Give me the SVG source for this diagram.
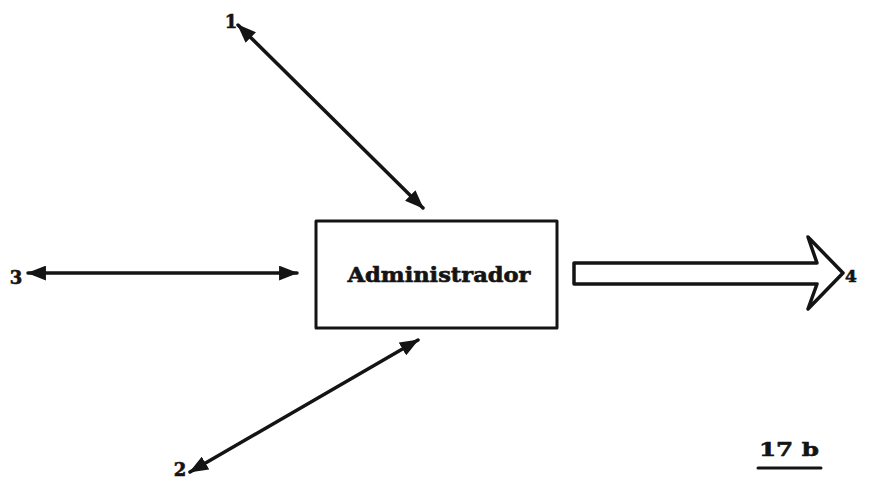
<svg xmlns="http://www.w3.org/2000/svg" width="869" height="501" viewBox="0 0 869 501">
  <style>
    .ink { stroke: #141414; fill: none; stroke-linecap: round; stroke-linejoin: round; }
    .conn { stroke-width: 3.5; }
    .lbl { font-family: "DejaVu Serif", "Liberation Serif", serif; font-weight: bold; fill: #141414; stroke: #141414; stroke-width: 0.6; }
  </style>
  <defs>
    <marker id="tip" viewBox="0 0 18 14" refX="17" refY="7" markerWidth="19" markerHeight="15" markerUnits="userSpaceOnUse" orient="auto-start-reverse">
      <path d="M0,0 L18,7 L0,14 Z" fill="#141414"/>
    </marker>
  </defs>

  <rect width="869" height="501" fill="#ffffff"/>

  <!-- central node -->
  <g id="administrador">
    <rect class="ink" x="316" y="221" width="241" height="107" stroke-width="3"/>
    <text class="lbl" x="439" y="282" font-size="20" text-anchor="middle" textLength="183" lengthAdjust="spacingAndGlyphs">Administrador</text>
  </g>

  <!-- terminal labels -->
  <g id="n1"><text class="lbl" x="231" y="28" font-size="18" text-anchor="middle">1</text></g>
  <g id="n2"><text class="lbl" x="180" y="476" font-size="18" text-anchor="middle">2</text></g>
  <g id="n3"><text class="lbl" x="16" y="284" font-size="18" text-anchor="middle">3</text></g>
  <g id="n4"><text class="lbl" x="851" y="282" font-size="17" text-anchor="middle">4</text></g>

  <!-- figure caption -->
  <g id="caption">
    <text class="lbl" x="789" y="456" font-size="19" text-anchor="middle" textLength="60" lengthAdjust="spacingAndGlyphs">17 b</text>
    <line class="ink" x1="758" y1="468" x2="821" y2="468" stroke-width="3"/>
  </g>

  <!-- connectors -->
  <g id="connectors">
    <path class="ink conn" d="M238,25 L423,208" marker-start="url(#tip)" marker-end="url(#tip)"/>
    <path class="ink conn" d="M28,273 L297,273" marker-start="url(#tip)" marker-end="url(#tip)"/>
    <path class="ink conn" d="M190,472 L418,340" marker-start="url(#tip)" marker-end="url(#tip)"/>
    <!-- hollow output arrow towards 4 -->
    <path class="ink" stroke-width="3.5" d="M574,263 L817,263 L808,237 L843,273 L808,309 L817,284 L574,284 Z"/>
  </g>
</svg>
